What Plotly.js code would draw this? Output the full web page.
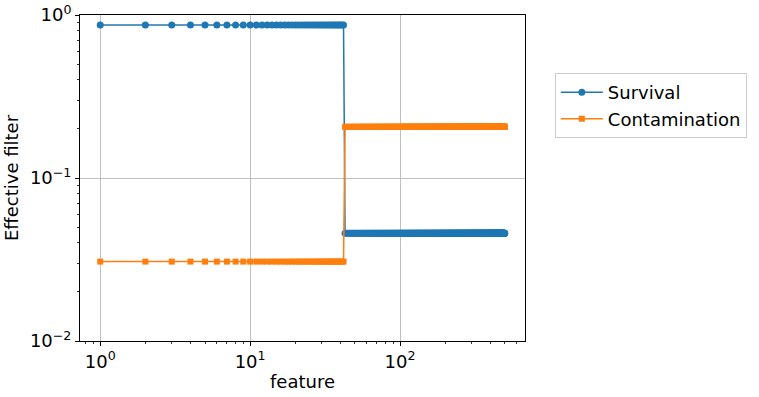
<!DOCTYPE html>
<html>
<head>
<meta charset="utf-8">
<script src="https://cdn.plot.ly/plotly-3.0.1.min.js"></script>
<style>
  html, body { margin: 0; padding: 0; background: white; }
  #chart { width: 759px; height: 397px; }
</style>
</head>
<body>
<div id="chart"></div>
<script>
// feature index runs 1..featureCount, values step once after splitFeature
var featureCount = 500;
var splitFeature = 42;
var survivalLevels = [0.868, 0.0458];
var contaminationLevels = [0.0307, 0.206];
var seriesNames = ['Survival', 'Contamination'];
var xTickVals = [1, 10, 100];
var xTickText = ['10<sup>0</sup>', '10<sup>1</sup>', '10<sup>2</sup>'];
var yTickVals = [0.01, 0.1, 1];
var yTickText = ['10<sup>−2</sup>', '10<sup>−1</sup>', '10<sup>0</sup>'];

var feature = [];
var survival = [];
var contamination = [];
for (var i = 1; i <= featureCount; i++) {
  var k = i <= splitFeature ? 0 : 1;
  feature.push(i);
  survival.push(survivalLevels[k]);
  contamination.push(contaminationLevels[k]);
}

var font = {family: 'DejaVu Sans, sans-serif', size: 18, color: '#000'};

var traceSurvival = {
  x: feature, y: survival,
  mode: 'lines+markers',
  name: seriesNames[0],
  line: {color: '#1f77b4', width: 1.5},
  marker: {color: '#1f77b4', size: 7, symbol: 'circle'}
};

var traceContamination = {
  x: feature, y: contamination,
  mode: 'lines+markers',
  name: seriesNames[1],
  line: {color: '#ff7f0e', width: 1.5},
  marker: {color: '#ff7f0e', size: 6, symbol: 'square'}
};

var minorTicks = {ticks: 'outside', ticklen: 2, tickcolor: '#000', tickwidth: 0.8, dtick: 'D1', showgrid: false};

var layout = {
  width: 759, height: 397,
  font: font,
  paper_bgcolor: 'white',
  plot_bgcolor: 'white',
  margin: {l: 80, r: 234, t: 15, b: 56, autoexpand: false},
  xaxis: {
    type: 'log',
    range: [-0.135, 2.834],
    tickvals: xTickVals, ticktext: xTickText,
    ticks: 'outside', ticklen: 4, tickcolor: '#000',
    minor: minorTicks,
    showgrid: true, gridcolor: '#b0b0b0', gridwidth: 0.8,
    showline: true, linecolor: '#000', linewidth: 1, mirror: true,
    zeroline: false,
    title: {text: 'feature', font: font, standoff: 4}
  },
  yaxis: {
    type: 'log',
    range: [-2, 0],
    tickvals: yTickVals, ticktext: yTickText,
    ticks: 'outside', ticklen: 4, tickcolor: '#000',
    minor: minorTicks,
    showgrid: true, gridcolor: '#b0b0b0', gridwidth: 0.8,
    showline: true, linecolor: '#000', linewidth: 1, mirror: true,
    zeroline: false,
    title: {text: 'Effective filter', font: font, standoff: 6}
  },
  showlegend: true,
  legend: {
    xref: 'container', yref: 'container',
    x: 0.731, y: 0.816, xanchor: 'left', yanchor: 'top',
    bgcolor: 'white', bordercolor: '#cccccc', borderwidth: 1,
    itemwidth: 42,
    font: font
  }
};

Plotly.newPlot('chart', [traceSurvival, traceContamination], layout, {displayModeBar: false, staticPlot: true});
</script>
</body>
</html>
